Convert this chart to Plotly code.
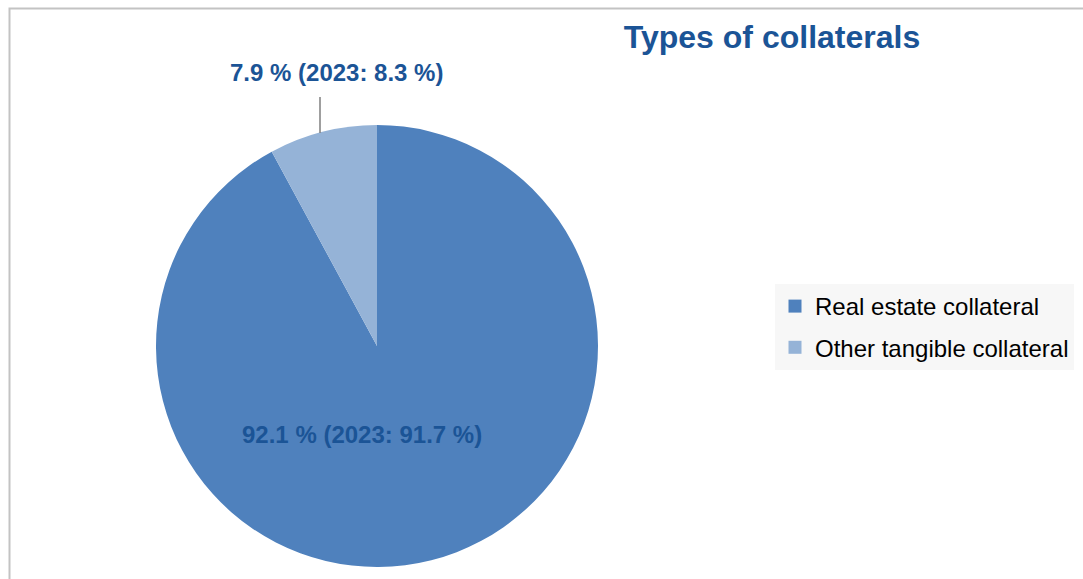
import plotly.graph_objects as go

categories = ["Real estate collateral", "Other tangible collateral"]
values_2024 = [92.1, 7.9]
values_2023 = [91.7, 8.3]
colors = ["#4F81BD", "#95B3D7"]
title_text = "Types of collaterals"

W, H = 1083, 579
TXT = "#1B5496"
FONT = "Liberation Sans, Arial, sans-serif"

def px(x):
    return x / W

def py(y):
    return 1 - y / H

labels_txt = [f"{a:.1f} % (2023: {b:.1f} %)" for a, b in zip(values_2024, values_2023)]

fig = go.Figure()
fig.add_trace(go.Pie(
    labels=categories,
    values=values_2024,
    sort=False,
    direction="clockwise",
    rotation=0,
    marker=dict(colors=colors, line=dict(width=0)),
    textinfo="none",
    hoverinfo="label+percent",
    showlegend=False,
    domain=dict(x=[px(156), px(598)], y=[py(567), py(125)]),
))

# legend entries (one group each, to control the spacing)
for name, col in zip(categories, colors):
    fig.add_trace(go.Scatter(
        x=[None], y=[None], mode="markers", name=name, legendgroup=name,
        marker=dict(symbol="square", size=13, color=col),
        showlegend=True,
    ))

fig.add_annotation(
    x=px(362), y=py(434), xref="paper", yref="paper",
    xanchor="center", yanchor="middle",
    text=f"<b>{labels_txt[0]}</b>", showarrow=False,
    font=dict(family=FONT, size=24, color=TXT),
)
fig.add_annotation(
    x=px(336), y=py(72), xref="paper", yref="paper",
    xanchor="center", yanchor="middle",
    text=f"<b>{labels_txt[1]}</b>", showarrow=False,
    font=dict(family=FONT, size=24, color=TXT),
)
# leader line
fig.add_shape(type="line", xref="paper", yref="paper",
              x0=px(320), x1=px(320), y0=py(97), y1=py(133),
              line=dict(color="#7F7F7F", width=1.5))

# frame
fig.add_shape(type="rect", xref="paper", yref="paper",
              x0=px(9.5), x1=1.05, y0=-0.05, y1=py(8.5),
              line=dict(color="#C3C3C3", width=2), fillcolor="rgba(0,0,0,0)", layer="below")

fig.update_layout(
    width=W, height=H,
    margin=dict(l=0, r=0, t=0, b=0),
    paper_bgcolor="white",
    plot_bgcolor="rgba(0,0,0,0)",
    xaxis=dict(visible=False),
    yaxis=dict(visible=False),
    title=dict(text=f"<b>{title_text}</b>", x=px(772), xanchor="center",
               y=py(37), yanchor="middle",
               font=dict(family=FONT, size=32, color=TXT)),
    showlegend=True,
    legend=dict(x=px(775), y=py(284), xanchor="left", yanchor="top",
                bgcolor="#F7F7F7", font=dict(family=FONT, size=24, color="#000000"),
                itemwidth=30, tracegroupgap=7, traceorder="grouped"),
)

fig.write_html("out.html")
